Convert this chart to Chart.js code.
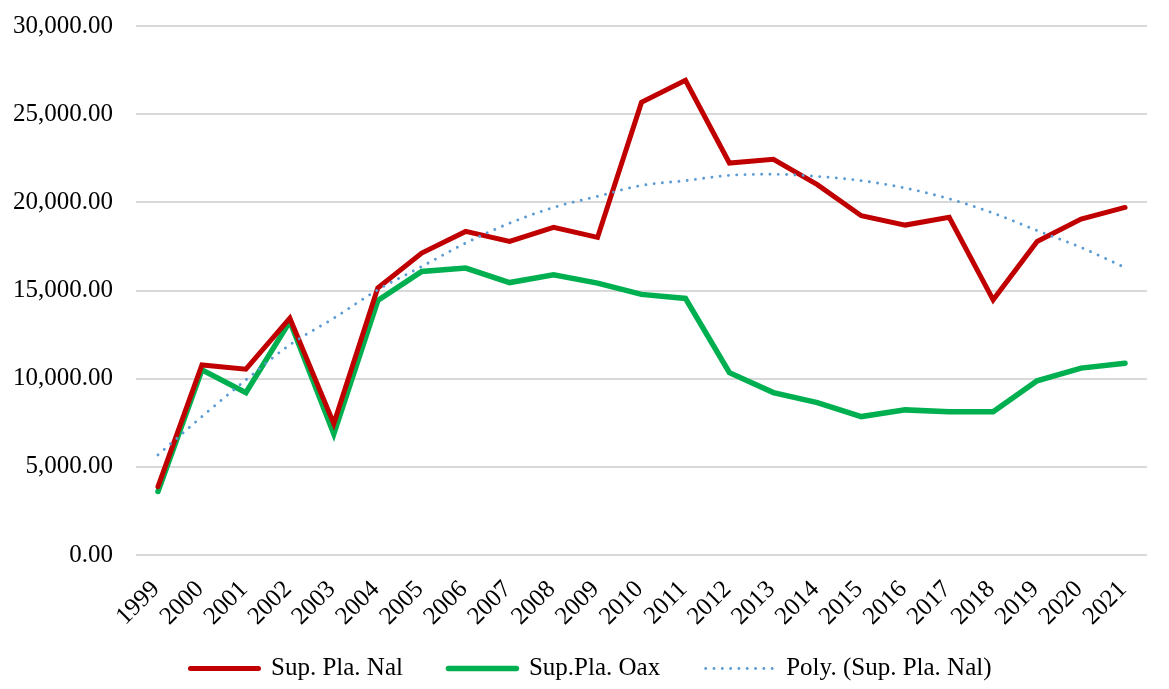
<!DOCTYPE html>
<html>
<head>
<meta charset="utf-8">
<script src="https://cdn.jsdelivr.net/npm/chart.js@4"></script>
<style>
  body { margin: 0; background: #fff; }
  #wrap { width: 1169px; height: 689px; }
</style>
</head>
<body>
<div id="wrap"><canvas id="chart" width="1169" height="689"></canvas></div>
<script>
// Años
const years = ['1999', '2000', '2001', '2002', '2003', '2004', '2005', '2006', '2007', '2008', '2009', '2010',
    '2011', '2012', '2013', '2014', '2015', '2016', '2017', '2018', '2019', '2020', '2021'];

// Superficie plantada nacional
const supPlaNal = [3880, 10780, 10540, 13430, 7450, 15140, 17120, 18350, 17780, 18580, 18010, 25670,
    26920, 22230, 22440, 21000, 19240, 18710, 19150, 14470, 17780, 19050, 19710];

// Superficie plantada Oaxaca
const supPlaOax = [3600, 10500, 9210, 13250, 6870, 14430, 16080, 16270, 15450, 15890, 15420, 14780,
    14550, 10340, 9210, 8640, 7850, 8230, 8130, 8130, 9880, 10600, 10880];

// Tendencia polinómica
const polyNal = [5680, 7850, 9930, 11920, 13430, 15040, 16360, 17690, 18820, 19710, 20340, 20960,
    21230, 21530, 21590, 21470, 21230, 20810, 20200, 19390, 18400, 17440, 16300];

const yTicks = [0, 5000, 10000, 15000, 20000, 25000, 30000];

const serif = 'Liberation Serif, Times New Roman, serif';

const fmt = v => v.toLocaleString('en-US', { minimumFractionDigits: 2, maximumFractionDigits: 2 });

// separación extra tras cada texto de la leyenda
const legendGap = [6, 6, 0];

// desplaza la leyenda a la derecha como en la gráfica original
const legendShift = {
    id: 'legendShift',
    afterLayout(chart) {
        chart.legend.left += 11.5;
        chart.legend.right += 11.5;
    }
};

const ctx = document.getElementById('chart').getContext('2d');
new Chart(ctx, {
    type: 'line',
    data: {
        labels: years,
        datasets: [
            {
                label: 'Sup. Pla. Nal',
                data: supPlaNal,
                borderColor: '#c00000',
                backgroundColor: '#c00000',
                borderWidth: 5,
                borderCapStyle: 'round',
                pointRadius: 0,
                tension: 0,
                order: 2
            },
            {
                label: 'Sup.Pla. Oax',
                data: supPlaOax,
                borderColor: '#00b050',
                backgroundColor: '#00b050',
                borderWidth: 5.5,
                borderCapStyle: 'round',
                pointRadius: 0,
                tension: 0,
                order: 3
            },
            {
                label: 'Poly. (Sup. Pla. Nal)',
                data: polyNal,
                borderColor: '#5b9bd5',
                backgroundColor: '#5b9bd5',
                borderWidth: 2.9,
                borderDash: [0.01, 8.3],
                borderCapStyle: 'round',
                pointRadius: 0,
                cubicInterpolationMode: 'monotone',
                order: 1
            }
        ]
    },
    options: {
        responsive: false,
        animation: false,
        layout: { padding: { left: 12, right: 22, top: 26, bottom: -2 } },
        plugins: {
            tooltip: { enabled: false },
            legend: {
                position: 'bottom',
                labels: {
                    usePointStyle: true,
                    pointStyleWidth: 68,
                    boxHeight: 10,
                    padding: 8,
                    color: '#000',
                    font: { family: serif, size: 25 },
                    generateLabels: chart => chart.data.datasets.map((ds, i) => ({
                        text: ds.label + '\u00a0'.repeat(legendGap[i]),
                        datasetIndex: i,
                        fillStyle: ds.borderColor,
                        strokeStyle: ds.borderColor,
                        lineWidth: ds.borderWidth,
                        lineDash: ds.borderDash || [],
                        lineCap: 'round',
                        pointStyle: 'line',
                        fontColor: '#000',
                        hidden: false
                    }))
                }
            }
        },
        scales: {
            x: {
                offset: true,
                grid: { display: false, drawTicks: false },
                border: { display: false },
                afterFit: axis => { axis.height = 93; },
                ticks: {
                    color: '#000',
                    font: { family: serif, size: 25 },
                    minRotation: 45,
                    maxRotation: 45,
                    autoSkip: false,
                    padding: 20,
                    labelOffset: -2
                }
            },
            y: {
                min: 0,
                max: 30000,
                afterBuildTicks: axis => { axis.ticks = yTicks.map(v => ({ value: v })); },
                afterFit: axis => { axis.width = 124; },
                grid: { color: '#d9d9d9', lineWidth: 2, drawTicks: true, tickLength: 23, tickColor: 'rgba(0,0,0,0)' },
                border: { display: false },
                ticks: {
                    color: '#000',
                    font: { family: serif, size: 25 },
                    padding: 0,
                    callback: v => fmt(v)
                }
            }
        }
    },
    plugins: [legendShift]
});
</script>
</body>
</html>
